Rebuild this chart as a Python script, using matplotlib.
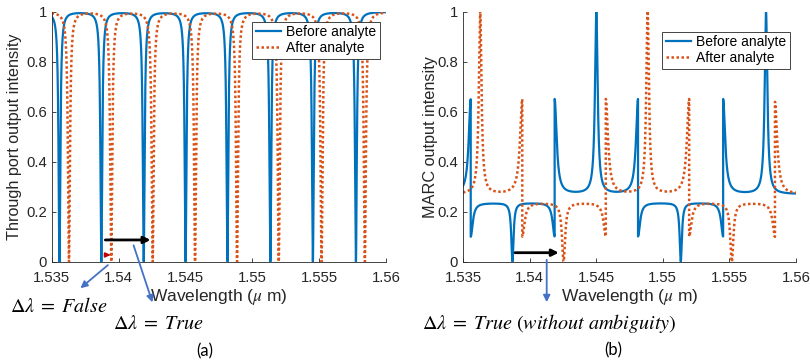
import numpy as np
import matplotlib
matplotlib.use("Agg")
import matplotlib.pyplot as plt

# ---------------- data ----------------
wl_min, wl_max = 1.535, 1.56
x_ticks = [1.535, 1.54, 1.545, 1.55, 1.555, 1.56]
x_tick_labels = ["1.535", "1.54", "1.545", "1.55", "1.555", "1.56"]
y_ticks = [0, 0.2, 0.4, 0.6, 0.8, 1.0]
y_tick_labels = ["0", "0.2", "0.4", "0.6", "0.8", "1"]

# resonance wavelengths (um)
before_res = [1.53558, 1.53871, 1.54188, 1.54501, 1.54814, 1.55135, 1.55453, 1.55775]
after_res = [1.53629, 1.53945, 1.54255, 1.54572, 1.54886, 1.55198, 1.55518, 1.55842]

# through-port dip depth (0 = full extinction)
before_through_min = [0, 0, 0, 0, 0, 0, 0, 0]
after_through_min = [0, 0, 0, 0, 0, 0, 0, 0]

# MARC output: value approached from the left / right of each resonance
before_marc_left = [0.65, 0.0, 0.10, 1.0, 0.65, 0.0, 0.10, 1.0]
before_marc_right = [0.10, 0.0, 0.65, 1.0, 0.10, 0.0, 0.65, 1.0]
before_marc_base = [0.27, 0.235, 0.235, 0.27, 0.27, 0.235, 0.235, 0.27, 0.27]

after_marc_left = [1.0, 0.65, 0.0, 0.10, 1.0, 0.65, 0.0, 0.10]
after_marc_right = [1.0, 0.10, 0.0, 0.65, 1.0, 0.10, 0.0, 0.64]
after_marc_base = [0.27, 0.27, 0.235, 0.235, 0.27, 0.27, 0.235, 0.235, 0.27]

series_names = ["Before analyte", "After analyte"]

# ---------------- style ----------------
BLUE = "#0072BD"
ORANGE = "#D95319"
TXT = "#262626"
plt.rcParams["font.family"] = ["Liberation Sans", "DejaVu Sans"]
plt.rcParams["mathtext.fontset"] = "stix"

lam = np.linspace(wl_min, wl_max, 400001)


def through_curve(centers, mins, gamma):
    y = np.ones_like(lam)
    for c, m in zip(centers, mins):
        y -= (1 - m) / (1 + ((lam - c) / gamma) ** 2)
    return np.clip(y, 0, 1)


def marc_curve(centers, left_ext, right_ext, seg_base, widths):
    c_arr = np.asarray(centers)
    idx = np.searchsorted(c_arr, lam)
    base = np.asarray(seg_base)[idx]
    y = base.copy()
    for c, le, re, w in zip(centers, left_ext, right_ext, widths):
        L = 1 / (1 + ((lam - c) / w) ** 2)
        y += np.where(lam < c, (le - base) * L, (re - base) * L)
    return y


def width_for(left_ext, right_ext, wA, wB, wD):
    out = []
    for le, re in zip(left_ext, right_ext):
        if le == re == 0:
            out.append(wB)
        elif le == re:
            out.append(wD)
        else:
            out.append(wA)
    return out


fig = plt.figure(figsize=(8.1, 3.63), dpi=100)
W, H = 810, 363
ax1 = fig.add_axes([51.7 / W, 1 - 261.7 / H, 334.3 / W, 250 / H])
ax2 = fig.add_axes([463 / W, 1 - 261.7 / H, 333 / W, 250 / H])

# left panel
ax1.plot(lam, through_curve(before_res, before_through_min, 0.00008), color=BLUE, lw=1.6,
         label=series_names[0])
ax1.plot(lam, through_curve(after_res, after_through_min, 0.00009), color=ORANGE, lw=1.8,
         ls=(0, (1, 1)), label=series_names[1])

# right panel
bw = width_for(before_marc_left, before_marc_right, 0.00018, 0.0001, 0.00012)
aw = width_for(after_marc_left, after_marc_right, 0.0002, 0.00014, 0.00012)
ax2.plot(lam, marc_curve(before_res, before_marc_left, before_marc_right, before_marc_base, bw),
         color=BLUE, lw=1.6, label=series_names[0])
ax2.plot(lam, marc_curve(after_res, after_marc_left, after_marc_right, after_marc_base, aw),
         color=ORANGE, lw=1.8, ls=(0, (1, 1)), label=series_names[1])

for ax, ylab, ylx in [(ax1, "Through port output intensity", -0.11),
                      (ax2, "MARC output intensity", -0.097)]:
    ax.set_xlim(wl_min, wl_max)
    ax.set_ylim(0, 1)
    ax.set_xticks(x_ticks)
    ax.set_xticklabels(x_tick_labels)
    ax.set_yticks(y_ticks)
    ax.set_yticklabels(y_tick_labels)
    ax.tick_params(direction="in", length=3, width=0.6, colors=TXT, labelsize=10.7)
    ax.tick_params(axis="x", pad=6.5)
    ax.tick_params(axis="y", pad=3.5)
    for s in ["top", "right"]:
        ax.spines[s].set_visible(False)
    for s in ["left", "bottom"]:
        ax.spines[s].set_color(TXT)
        ax.spines[s].set_linewidth(0.6)
    ax.set_xlabel("Wavelength ($\\mu$ m)", fontsize=12.5, color=TXT)
    ax.set_ylabel(ylab, fontsize=11.7, color=TXT)
    ax.xaxis.set_label_coords(0.5, -0.14)
    ax.xaxis.label.set_va("center")
    ax.yaxis.set_label_coords(ylx, 0.5)
    ax.yaxis.label.set_va("center")

leg_kw = dict(loc="upper right", fontsize=10, frameon=True, fancybox=False, edgecolor=TXT,
              handlelength=1.8, handletextpad=0.4, borderpad=0.25, labelspacing=0.15,
              borderaxespad=0)
lg1 = ax1.legend(bbox_to_anchor=(0.982, 0.96), **leg_kw)
lg2 = ax2.legend(bbox_to_anchor=(0.982, 0.92), **leg_kw)
for lg in (lg1, lg2):
    lg.get_frame().set_linewidth(0.6)
    lg.get_frame().set_alpha(1)

# arrows in data coordinates
ax1.annotate("", xy=(1.5426, 0.087), xytext=(1.5388, 0.087),
             arrowprops=dict(arrowstyle="-|>", color="black", lw=2, mutation_scale=10))
ax1.annotate("", xy=(1.5396, 0.027), xytext=(1.5389, 0.027),
             arrowprops=dict(arrowstyle="-|>", color="#C00000", lw=1.5, mutation_scale=6))
ax2.annotate("", xy=(1.5424, 0.036), xytext=(1.5387, 0.036),
             arrowprops=dict(arrowstyle="-|>", color="black", lw=2, mutation_scale=10))

# blue pointer arrows in figure pixels
AC = "#4472C4"
for (x0, y0), (x1, y1) in [((110, 263.3), (78.3, 290)), ((132.7, 242.7), (153.3, 305)),
                           ((546.7, 257), (546.7, 305))]:
    fig.add_artist(matplotlib.patches.FancyArrowPatch(
        (x0 / W, 1 - y0 / H), (x1 / W, 1 - y1 / H), transform=fig.transFigure,
        arrowstyle="-|>", color=AC, lw=1.3, mutation_scale=10))

fig.text(10 / W, 1 - 306.7 / H, r"$\Delta\lambda\;=\;False$", fontsize=14.5, va="center", ha="left")
fig.text(113 / W, 1 - 323.3 / H, r"$\Delta\lambda\;=\;True$", fontsize=14.5, va="center", ha="left")
fig.text(421.7 / W, 1 - 323.3 / H, r"$\Delta\lambda\;=\;True\ (without\ ambiguity)$", fontsize=14.5,
         va="center", ha="left")
fig.text(205 / W, 1 - 351.7 / H, "(a)", fontsize=12, va="center", ha="center",
         family=["Lato", "DejaVu Sans"])
fig.text(613 / W, 1 - 350 / H, "(b)", fontsize=12, va="center", ha="center",
         family=["Lato", "DejaVu Sans"])

fig.savefig("out.png", dpi=100)
